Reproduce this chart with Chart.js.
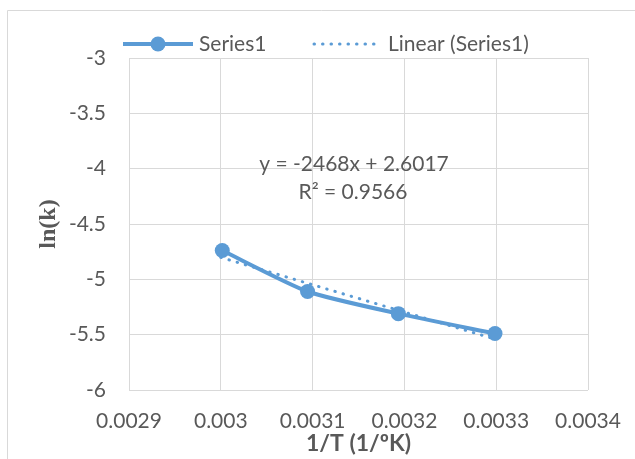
<!DOCTYPE html>
<html lang="en">
<head>
    <meta charset="UTF-8">
    <title>ln(k) vs 1/T</title>
    <script src="https://cdn.jsdelivr.net/npm/chart.js"></script>
    <style>
        body { margin: 0; background: #ffffff; }
        #chart-container { width: 635px; height: 459px; position: relative; }
    </style>
</head>
<body>
    <div id="chart-container">
        <canvas id="arrheniusChart" width="635" height="459"></canvas>
    </div>

    <script>
        // values
        const invT = [0.0030016, 0.0030945, 0.0031934, 0.0032987];
        const lnK = [-4.74, -5.11, -5.31, -5.49];
        const trendX = [0.003, 0.0033];
        const trendY = [-4.802, -5.543];
        const xTicks = [0.0029, 0.003, 0.0031, 0.0032, 0.0033, 0.0034];
        const seriesName = 'Series1';
        const trendName = 'Linear (Series1)';
        const equationLines = ['y = -2468x + 2.6017', 'R² = 0.9566'];

        const blue = '#5b9bd5';
        const textColor = '#595959';
        const gridColor = '#d9d9d9';
        const fontFamily = 'Lato, "Open Sans", sans-serif';

        const ctx = document.getElementById('arrheniusChart').getContext('2d');

        // legend, trendline label and outer border
        const overlayPlugin = {
            id: 'overlay',
            afterDraw(chart) {
                const c = chart.ctx;
                c.save();
                c.strokeStyle = gridColor;
                c.lineWidth = 1;
                c.beginPath();
                c.moveTo(7.5, 470);
                c.lineTo(7.5, 10.5);
                c.lineTo(650, 10.5);
                c.stroke();

                const ly = 44;
                c.strokeStyle = blue;
                c.lineWidth = 4;
                c.beginPath();
                c.moveTo(123, ly);
                c.lineTo(193, ly);
                c.stroke();
                c.fillStyle = blue;
                c.beginPath();
                c.arc(158, ly, 7.5, 0, Math.PI * 2);
                c.fill();

                c.lineWidth = 3;
                c.lineCap = 'round';
                c.setLineDash([0.5, 8]);
                c.beginPath();
                c.moveTo(314, ly);
                c.lineTo(376, ly);
                c.stroke();
                c.setLineDash([]);

                c.fillStyle = textColor;
                c.font = '21px ' + fontFamily;
                c.textBaseline = 'middle';
                c.textAlign = 'left';
                c.fillText(seriesName, 199, ly);
                c.fillText(trendName, 388, ly);

                c.textAlign = 'center';
                c.fillText(equationLines[0], 354, 164);
                c.fillText(equationLines[1], 353, 192);
                c.restore();
            }
        };

        const chartData = {
            datasets: [
                {
                    label: seriesName,
                    data: invT.map((x, i) => ({ x: x, y: lnK[i] })),
                    borderColor: blue,
                    backgroundColor: blue,
                    borderWidth: 4,
                    pointRadius: 7.5,
                    pointHoverRadius: 7.5,
                    pointBackgroundColor: blue,
                    pointBorderWidth: 0,
                    tension: 0.2,
                    fill: false
                },
                {
                    label: trendName,
                    data: trendX.map((x, i) => ({ x: x, y: trendY[i] })),
                    borderColor: blue,
                    borderWidth: 3,
                    borderDash: [0.5, 8],
                    borderCapStyle: 'round',
                    pointRadius: 0,
                    fill: false
                }
            ]
        };

        const config = {
            type: 'scatter',
            data: chartData,
            options: {
                responsive: false,
                animation: false,
                showLine: true,
                layout: {
                    padding: { top: 58, right: 47, bottom: 0, left: 0 }
                },
                plugins: {
                    legend: { display: false },
                    tooltip: { enabled: false }
                },
                scales: {
                    x: {
                        type: 'linear',
                        min: 0.0029,
                        max: 0.0034,
                        afterBuildTicks: (scale) => {
                            scale.ticks = xTicks.map(v => ({ value: v }));
                        },
                        afterFit: (scale) => {
                            scale.height = 69;
                            scale.paddingLeft = 0;
                            scale.paddingRight = 0;
                        },
                        grid: { color: gridColor, drawTicks: false },
                        border: { display: false },
                        ticks: {
                            color: textColor,
                            padding: 19,
                            maxRotation: 0,
                            autoSkip: false,
                            font: { family: fontFamily, size: 21 },
                            callback: (v) => String(Number(v.toFixed(4)))
                        },
                        title: {
                            display: true,
                            text: '1/T (1/ºK)',
                            color: textColor,
                            font: { family: fontFamily, size: 23, weight: 'bold' },
                            padding: { top: 0, bottom: 2 }
                        }
                    },
                    y: {
                        min: -6,
                        max: -3,
                        afterFit: (scale) => { scale.width = 129; },
                        grid: { color: gridColor, drawTicks: false },
                        border: { display: false },
                        ticks: {
                            stepSize: 0.5,
                            color: textColor,
                            padding: 23,
                            font: { family: fontFamily, size: 21 },
                            callback: (v) => String(Number(v.toFixed(1)))
                        },
                        title: {
                            display: true,
                            text: 'ln(k)',
                            color: textColor,
                            font: { family: '"Liberation Serif", "Times New Roman", serif', size: 24, weight: 'bold' },
                            padding: { top: 34, bottom: 0 }
                        }
                    }
                }
            },
            plugins: [overlayPlugin]
        };

        const chart = new Chart(ctx, config);
    </script>
</body>
</html>
